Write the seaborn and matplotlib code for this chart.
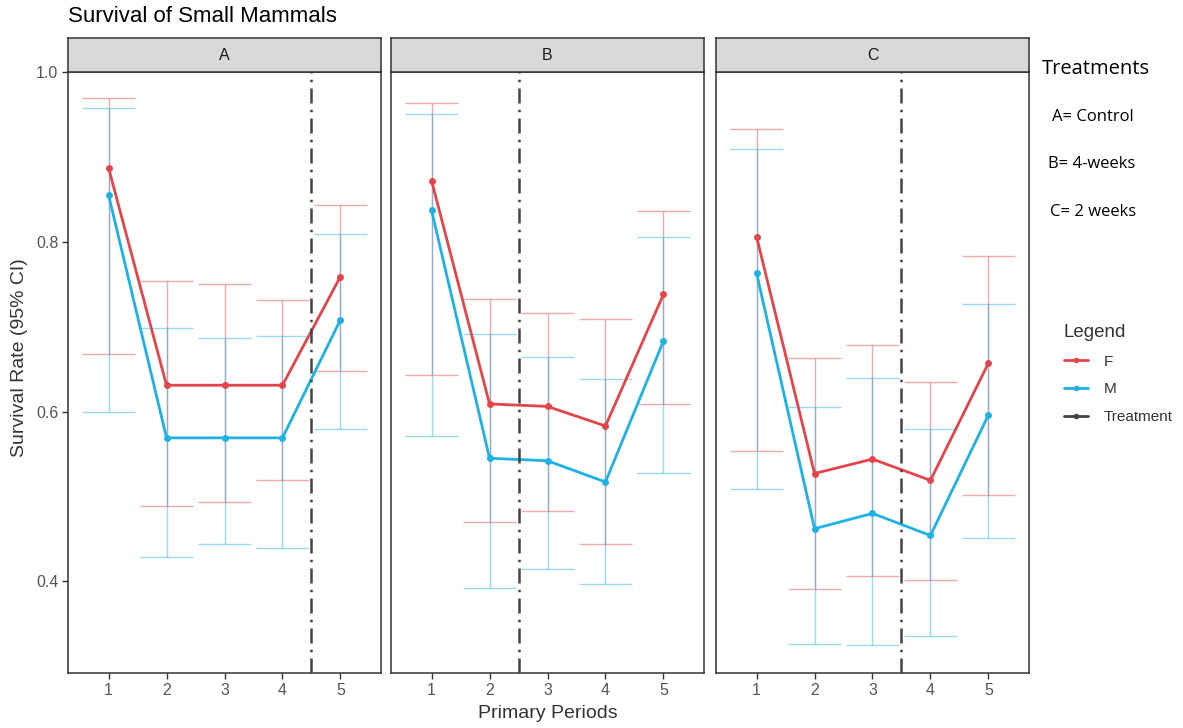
import numpy as np
import pandas as pd
import matplotlib
matplotlib.use("Agg")
import matplotlib.pyplot as plt
import seaborn as sns
from matplotlib.lines import Line2D

# data
periods = [1, 2, 3, 4, 5]
panels = ["A", "B", "C"]
treat_at = {"A": 4.5, "B": 2.5, "C": 3.5}

f_est = {"A": [0.887, 0.631, 0.631, 0.631, 0.759],
         "B": [0.872, 0.609, 0.606, 0.583, 0.738],
         "C": [0.806, 0.527, 0.544, 0.519, 0.657]}
f_lo = {"A": [0.668, 0.489, 0.494, 0.519, 0.648],
        "B": [0.643, 0.470, 0.483, 0.444, 0.609],
        "C": [0.554, 0.391, 0.406, 0.401, 0.502]}
f_hi = {"A": [0.969, 0.754, 0.750, 0.731, 0.843],
        "B": [0.963, 0.733, 0.716, 0.709, 0.836],
        "C": [0.933, 0.663, 0.678, 0.635, 0.783]}

m_est = {"A": [0.855, 0.569, 0.569, 0.569, 0.708],
         "B": [0.837, 0.545, 0.542, 0.517, 0.683],
         "C": [0.763, 0.462, 0.480, 0.454, 0.596]}
m_lo = {"A": [0.599, 0.429, 0.444, 0.439, 0.579],
        "B": [0.571, 0.392, 0.415, 0.397, 0.528],
        "C": [0.509, 0.326, 0.325, 0.335, 0.451]}
m_hi = {"A": [0.958, 0.699, 0.687, 0.689, 0.809],
        "B": [0.951, 0.691, 0.664, 0.638, 0.806],
        "C": [0.909, 0.605, 0.639, 0.579, 0.727]}

treat_notes = ["A= Control", "B= 4-weeks", "C= 2 weeks"]

rows = []
for p in panels:
    for sex, est, lo, hi in [("F", f_est, f_lo, f_hi), ("M", m_est, m_lo, m_hi)]:
        for i, per in enumerate(periods):
            rows.append({"panel": p, "sex": sex, "period": per,
                         "est": est[p][i], "lo": lo[p][i], "hi": hi[p][i]})
df = pd.DataFrame(rows)

sns.set_theme(style="white")
plt.rcParams['font.family'] = ['Liberation Sans', 'DejaVu Sans']

pal = {"F": "#E2464B", "M": "#1DB2E3"}
W, H = 1183, 728
fig = plt.figure(figsize=(W / 100, H / 100), dpi=100)

lefts = [68, 391, 716]
pw = 313
top, bottom = 72, 673
strip_top = 38

for k, p in enumerate(panels):
    ax = fig.add_axes([lefts[k] / W, 1 - bottom / H, pw / W, (bottom - top) / H])
    sub = df[df.panel == p]
    for sex in ["F", "M"]:
        s = sub[sub.sex == sex]
        ax.vlines(s.period, s.lo, s.hi, color=pal[sex], alpha=0.45, lw=1, zorder=1)
        ax.hlines(s.lo, s.period - 0.45, s.period + 0.45, color=pal[sex], alpha=0.45, lw=1, zorder=1)
        ax.hlines(s.hi, s.period - 0.45, s.period + 0.45, color=pal[sex], alpha=0.45, lw=1, zorder=1)
    sns.lineplot(data=sub, x="period", y="est", hue="sex", palette=pal, marker="o",
                 markersize=5, markeredgewidth=0, linewidth=2, ax=ax, legend=False, zorder=3)
    ax.axvline(treat_at[p], color="#444444", lw=1.8, ls=(0, (6, 2.5, 1, 2.5)), zorder=4)

    ax.set_xlim(0.3, 5.7)
    ax.set_ylim(0.292, 1.0)
    ax.set_xticks(periods)
    ax.set_yticks([0.4, 0.6, 0.8, 1.0])
    ax.set_xlabel("")
    ax.set_ylabel("")
    ax.tick_params(axis="both", which="both", direction="out", length=4, width=1,
                   color="#333333", labelcolor="#555555", labelsize=11.5, pad=3,
                   left=(k == 0), bottom=True, labelleft=(k == 0))
    for sp in ax.spines.values():
        sp.set_color("#333333")
        sp.set_linewidth(1.1)

    # facet strip
    sax = fig.add_axes([lefts[k] / W, 1 - top / H, pw / W, (top - strip_top) / H])
    sax.set_facecolor("#D9D9D9")
    sax.set_xticks([])
    sax.set_yticks([])
    for sp in sax.spines.values():
        sp.set_color("#333333")
        sp.set_linewidth(1.1)
    sax.text(0.5, 0.5, p, ha="center", va="center", fontsize=11.5, color="#1A1A1A",
             transform=sax.transAxes)

fig.text(68 / W, 1 - 17 / H, "Survival of Small Mammals", fontsize=16, color="black",
         ha="left", va="center")
fig.text(20 / W, 1 - 358 / H, "Survival Rate (95% CI)", rotation=90, fontsize=14,
         color="#333333", ha="center", va="center")
fig.text(548 / W, 1 - 714 / H, "Primary Periods", fontsize=14, color="#333333",
         ha="center", va="center")

fig.text(1042 / W, 1 - 69 / H, "Treatments", fontsize=14.5, color="black",
         ha="left", va="center", family=["Open Sans", "DejaVu Sans"])
for j, (txt, xx) in enumerate(zip(treat_notes, [1052, 1048, 1050])):
    fig.text(xx / W, 1 - (117 + 47.5 * j) / H, txt, fontsize=12, color="black",
             ha="left", va="center", family=["Open Sans", "DejaVu Sans"])

handles = [Line2D([0], [0], color=pal["F"], lw=2, marker="o", markersize=4, markeredgewidth=0),
           Line2D([0], [0], color=pal["M"], lw=2, marker="o", markersize=4, markeredgewidth=0),
           Line2D([0], [0], color="#444444", lw=2, marker="o", markersize=4, markeredgewidth=0)]
leg = fig.legend(handles, ["F", "M", "Treatment"], title="Legend", loc="upper left",
                 bbox_to_anchor=(1050 / W, 1 - 310 / H), frameon=False, fontsize=11,
                 title_fontsize=13.5, handlelength=1.6, labelspacing=0.9, handletextpad=1.0,
                 alignment="left")
for t in leg.get_texts():
    t.set_color("#333333")
leg.get_title().set_color("#333333")

fig.savefig("out.png", dpi=100)
